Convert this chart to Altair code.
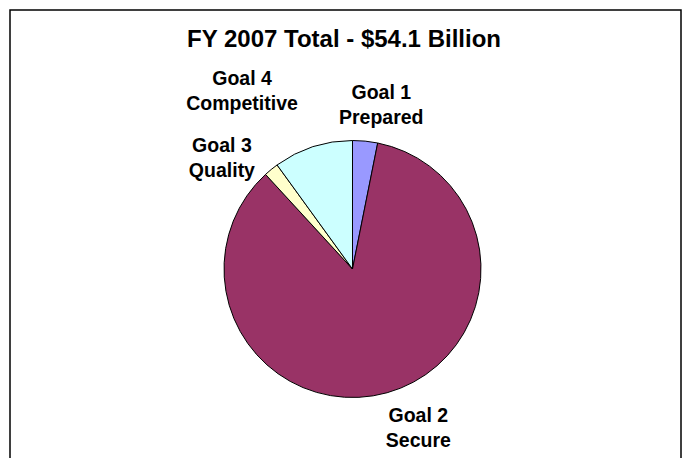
import altair as alt
import pandas as pd

# ---- data ----
goals = ["Goal 1", "Goal 2", "Goal 3", "Goal 4"]
names = ["Prepared", "Secure", "Quality", "Competitive"]
billions = [1.7, 46.0, 1.0, 5.4]          # FY 2007, $ billions (total 54.1)
colors = ["#9999FF", "#993366", "#FFFFCC", "#CCFFFF"]
title_text = "FY 2007 Total - $54.1 Billion"

df = pd.DataFrame({"goal": goals, "name": names, "value": billions,
                   "order": list(range(len(goals)))})
df["label"] = df["goal"] + "\n" + df["name"]

CX, CY, R = 352.5, 269, 128.5
FONT = "Liberation Sans"

base = alt.Chart(df)

pie = base.mark_arc(outerRadius=R, stroke="black", strokeWidth=1).encode(
    theta=alt.Theta("value:Q", stack=True),
    color=alt.Color("goal:N", scale=alt.Scale(domain=goals, range=colors), legend=None),
    order=alt.Order("order:Q"),
    x=alt.value(CX),
    y=alt.value(CY),
)

lab_base = base.transform_window(
    cum="sum(value)", sort=[alt.SortField("order")]
).transform_calculate(mid="datum.cum - datum.value / 2")

label_offsets = {"Goal 1": (12, -7), "Goal 2": (20, -17), "Goal 3": (-23, 9), "Goal 4": (-58, -28)}
labels = []
for g in goals:
    dx, dy = label_offsets[g]
    labels.append(
        lab_base.transform_filter(alt.datum.goal == g).mark_text(
            radius=170, dx=dx, dy=dy, font=FONT, fontSize=19.5, fontWeight="bold",
            lineBreak="\n", lineHeight=25, align="center", baseline="middle", color="black",
        ).encode(
            theta=alt.Theta("mid:Q"),
            text="label:N",
            x=alt.value(CX),
            y=alt.value(CY),
        )
    )

frame = alt.Chart(alt.Data(values=[{}])).mark_rect(
    filled=False, stroke="black", strokeWidth=1.5
).encode(x=alt.value(10), x2=alt.value(681), y=alt.value(10), y2=alt.value(490))

title = alt.Chart(alt.Data(values=[{}])).mark_text(
    text=title_text, font=FONT, fontSize=24, fontWeight="bold",
    align="center", baseline="alphabetic", color="black",
).encode(x=alt.value(344), y=alt.value(47))

chart = alt.layer(frame, pie, *labels, title).properties(
    width=684, height=458, autosize="none", padding=0
).configure_view(stroke="transparent")

chart.save("out.html", embed_options={"renderer": "svg", "actions": False})
